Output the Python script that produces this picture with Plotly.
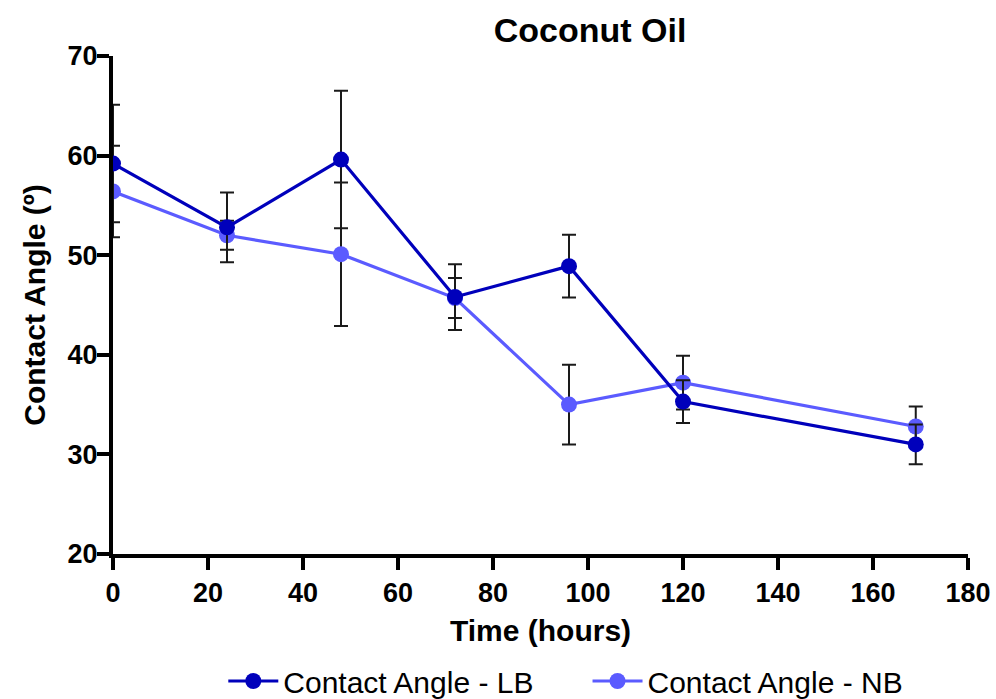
import plotly.graph_objects as go

# Time points (hours)
hours = [0, 24, 48, 72, 96, 120, 169]

# Contact angle means and standard deviations (degrees)
lb_angle = [59.2, 52.8, 59.6, 45.8, 48.9, 35.3, 31.0]
lb_sd = [5.9, 3.5, 6.9, 3.3, 3.15, 2.15, 2.0]
nb_angle = [56.4, 52.0, 50.1, 45.7, 35.0, 37.2, 32.8]
nb_sd = [4.6, 1.45, 7.2, 2.0, 4.0, 2.7, 2.0]

lb_color = "#0000BB"
nb_color = "#5B5BFF"
font_family = "Arial, Liberation Sans, sans-serif"

fig = go.Figure()

# NB first so the LB series sits on top of it
fig.add_trace(go.Scatter(
    x=hours, y=nb_angle, name="Contact Angle - NB",
    mode="lines+markers",
    line=dict(color=nb_color, width=3.2),
    marker=dict(color=nb_color, size=16),
    error_y=dict(type="data", array=nb_sd, visible=True,
                 color="#1a1a1a", thickness=2, width=7),
    legend="legend2", showlegend=True,
))
fig.add_trace(go.Scatter(
    x=hours, y=lb_angle, name="Contact Angle - LB",
    mode="lines+markers",
    line=dict(color=lb_color, width=3.2),
    marker=dict(color=lb_color, size=16),
    error_y=dict(type="data", array=lb_sd, visible=True,
                 color="#1a1a1a", thickness=2, width=7),
    legend="legend", showlegend=True,
))

tick_font = dict(family=font_family, size=27, color="black", weight="bold")
axis_common = dict(
    showline=True, linecolor="black", linewidth=4,
    ticks="outside", ticklen=12, tickwidth=4, tickcolor="black",
    showgrid=False, zeroline=False, tickfont=tick_font,
)

legend_common = dict(
    orientation="h", y=-0.255, yanchor="middle", xanchor="left",
    font=dict(family=font_family, size=30, color="black"),
    itemwidth=50, bgcolor="rgba(0,0,0,0)",
)

fig.update_layout(
    width=996, height=699,
    showlegend=True,
    margin=dict(l=113, r=28, t=56, b=145, autoexpand=False),
    paper_bgcolor="white", plot_bgcolor="white",
    font=dict(family=font_family, color="black"),
    title=dict(
        text="<b>Coconut Oil</b>",
        font=dict(family=font_family, size=34, color="black"),
        x=0.558, xref="paper", xanchor="center",
        y=0.957, yref="container", yanchor="middle",
    ),
    xaxis=dict(
        range=[0, 180], tickvals=[0, 20, 40, 60, 80, 100, 120, 140, 160, 180],
        title=dict(text="<b>Time (hours)</b>", standoff=14,
                   font=dict(family=font_family, size=30, color="black")),
        **axis_common,
    ),
    yaxis=dict(
        range=[20, 70], tickvals=[20, 30, 40, 50, 60, 70],
        ticklabelstandoff=-6,
        title=dict(text="<b>Contact Angle (º)</b>", standoff=14,
                   font=dict(family=font_family, size=30, color="black")),
        **axis_common,
    ),
    legend=dict(x=0.129, **legend_common),
    legend2=dict(x=0.555, **legend_common),
)

fig.update_xaxes(automargin=False)
fig.update_yaxes(automargin=False)

fig.write_html("out.html")
